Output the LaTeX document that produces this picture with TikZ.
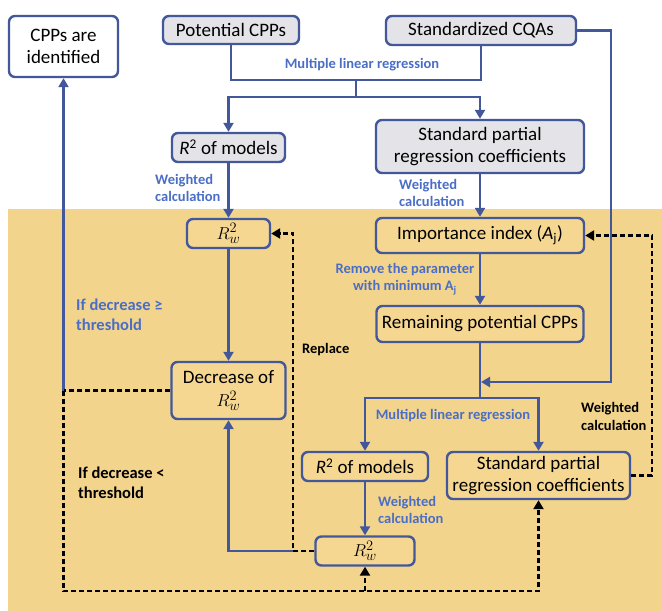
\documentclass[tikz,border=0pt]{standalone}
\usepackage{fontspec}
\setmainfont{Carlito}
\usetikzlibrary{arrows.meta,positioning,calc}
\definecolor{lineblue}{RGB}{66,88,155}
\definecolor{textblue}{RGB}{74,110,198}
\definecolor{boxgray}{RGB}{228,228,232}
\definecolor{tanbg}{RGB}{243,212,140}
\definecolor{tanbox}{RGB}{246,215,145}

\begin{document}
\begin{tikzpicture}[
  x=1pt,y=-1pt,
  box/.style={rectangle,rounded corners=6pt,draw=lineblue,line width=2.4pt,
    align=center,inner sep=2pt,font=\fontsize{19}{22}\selectfont},
  gbox/.style={box,fill=boxgray},
  tbox/.style={box,fill=tanbox},
  wbox/.style={box,fill=white},
  lbl/.style={font=\fontsize{14.5}{17.5}\selectfont\bfseries,text=textblue,
    align=left,inner sep=0pt},
  klbl/.style={lbl,text=black},
  big/.style={font=\fontsize{16.5}{20}\selectfont\bfseries},
  ln/.style={line width=2.4pt,draw=lineblue},
  arr/.style={ln,-{Triangle[length=9pt,width=10pt]}},
  dsh/.style={line width=2.2pt,dash pattern=on 5pt off 3pt},
  dsharr/.style={dsh,-{Triangle[length=9pt,width=10pt]}}
]
\useasboundingbox (0,0) rectangle (662,611);
\fill[tanbg] (8,209) rectangle (662,611);

% boxes
\node[wbox,minimum width=109pt,minimum height=61pt] (cpps) at (63.5,46.5) {CPPs are\\identified};
\node[gbox,minimum width=136pt,minimum height=28pt] (potential) at (231,30) {Potential CPPs};
\node[gbox,minimum width=190pt,minimum height=29pt] (cqas) at (481,30.5) {Standardized CQAs};
\node[gbox,minimum width=113pt,minimum height=29pt] (rsqa) at (228.5,147.5) {\textit{R}\textsuperscript{2} of models};
\node[gbox,minimum width=208pt,minimum height=53pt] (spca) at (480,146.5) {Standard partial\\regression coefficients};
\node[tbox,minimum width=83pt,minimum height=29pt] (rwa) at (228.5,233.5) {$R^2_w$};
\node[tbox,minimum width=208pt,minimum height=35pt] (imp) at (480,235.5) {Importance index (\textit{A}\textsubscript{j})};
\node[tbox,minimum width=207pt,minimum height=36pt] (rem) at (480,324) {Remaining potential CPPs};
\node[tbox,minimum width=114pt,minimum height=57pt] (dec) at (228.5,390.5) {Decrease of\\[1pt]$R^2_w$};
\node[tbox,minimum width=126pt,minimum height=29pt] (rsqb) at (365,466.5) {\textit{R}\textsuperscript{2} of models};
\node[tbox,minimum width=183pt,minimum height=47pt] (spcb) at (538.5,475.5) {Standard partial\\regression coefficients};
\node[tbox,minimum width=99pt,minimum height=29pt] (rwb) at (365,551) {$R^2_w$};

% labels
\node[lbl] (mlrla) at (362,65) {Multiple linear regression};
\node[lbl,anchor=west] (wca) at (155,188) {Weighted\\calculation};
\node[lbl,anchor=west] (wcb) at (399,193) {Weighted\\calculation};
\node[lbl,align=center] (rmv) at (405,279) {Remove the parameter\\with minimum A\textsubscript{j}};
\node[lbl,big,anchor=west] (ifge) at (76,315) {If decrease ≥\\threshold};
\node[klbl,anchor=west] (rpl) at (302,350) {Replace};
\node[klbl,big,anchor=west] (iflt) at (78,483) {If decrease <\\threshold};
\node[lbl] (mlrlb) at (453,416) {Multiple linear regression};
\node[lbl,anchor=west] (wcc) at (378,510) {Weighted\\calculation};
\node[klbl,anchor=west] (wcd) at (581,416.5) {Weighted\\calculation};

% joints
\coordinate (mlra) at (356,80);
\coordinate (mlrb) at (356,97);
\coordinate (mlrc) at (480,398);
\coordinate (cqin) at (611,382);
\coordinate (lft) at (cpps.south |- dec.west);
\coordinate (bot) at (63.5,591);
\coordinate (rep) at (293,551);
\coordinate (wcr) at (652,235.5);

% solid connectors
\draw[ln] (potential) |- (mlra) -| (cqas);
\draw[ln] (mlra) -- (mlrb);
\draw[arr] (mlrb) -| (rsqa);
\draw[arr] (mlrb) -| (spca);
\draw[arr] (rsqa) -- (rwa);
\draw[arr] (spca) -- (imp);
\draw[arr] (rwa) -- (dec);
\draw[arr] (imp) -- (rem);
\draw[ln] (rem) -- (mlrc);
\draw[arr,shorten >=1pt] (cqas) -| (cqin) -- (cqin -| rem);
\draw[arr] (mlrc) -| (rsqb);
\draw[arr] (mlrc) -| (spcb);
\draw[arr] (rsqb) -- (rwb);
\draw[arr] (rep) -| (dec);
\draw[arr] (lft) -- (cpps);

% dashed connectors
\draw[dsh] (dec) -- (lft);
\draw[dsharr] (lft) -- (bot) -| (spcb);
\draw[dsharr] (bot -| rwb) -- (rwb);
\draw[dsharr] (rwb) -- (rep) |- (rwa);
\draw[dsharr] (spcb) -| (wcr) -- (imp);
\end{tikzpicture}
\end{document}
